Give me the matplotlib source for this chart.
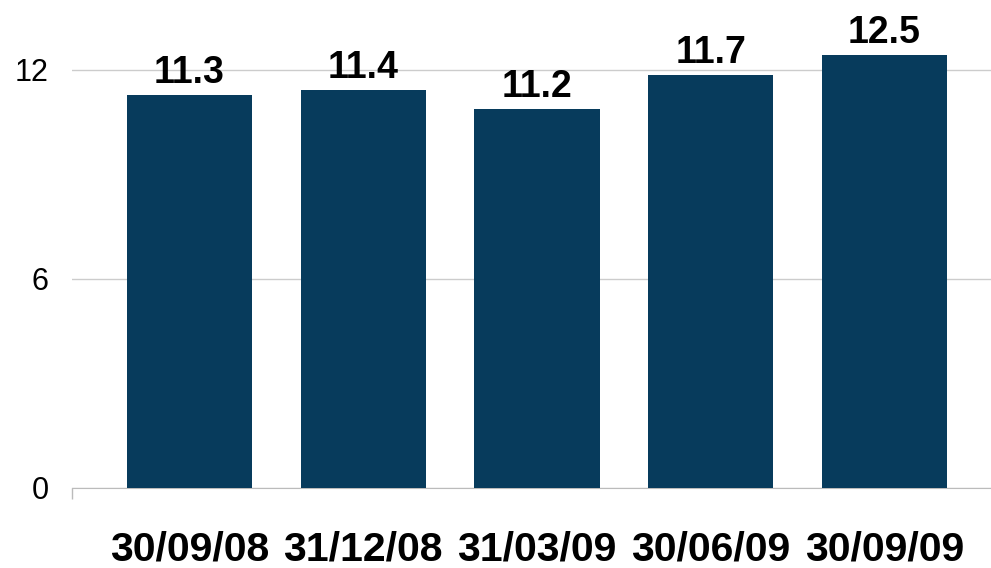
import numpy as np
import matplotlib.pyplot as plt

plt.rcParams['font.family'] = ['Liberation Sans', 'DejaVu Sans']

dates = ['30/09/08', '31/12/08', '31/03/09', '30/06/09', '30/09/09']
bar_heights = [11.27, 11.41, 10.87, 11.84, 12.41]
value_labels = ['11.3', '11.4', '11.2', '11.7', '12.5']
y_ticks = [0, 6, 12]

fig = plt.figure(figsize=(9.91, 5.68), dpi=100)
ax = fig.add_axes([0.0727, 0.1417, 0.9273, 0.8583])

x = np.arange(len(dates))
bars = ax.bar(x, bar_heights, width=0.72, color='#073B5C', zorder=3)

for b, lab in zip(bars, value_labels):
    ax.annotate(lab, (b.get_x() + b.get_width() / 2, b.get_height()),
                xytext=(0, 3), textcoords='offset points',
                ha='center', va='bottom', fontsize=27, fontweight='bold')

ax.set_xlim(-0.676, 4.613)
ax.set_ylim(0, 14)
ax.set_yticks(y_ticks)
ax.set_yticklabels([str(t) for t in y_ticks])
ax.set_xticks(x)
ax.set_xticklabels(dates, fontsize=29.5, fontweight='bold')

ax.grid(axis='y', color='#cccccc', linewidth=1, zorder=0)
ax.tick_params(axis='y', length=0, labelsize=22, pad=17)
ax.tick_params(axis='x', length=0, pad=31)
ax.set_xticks([-0.676], minor=True)
ax.tick_params(axis='x', which='minor', length=8, color='#bbbbbb', width=1)

for side in ['top', 'right', 'left']:
    ax.spines[side].set_visible(False)
ax.spines['bottom'].set_color('#bbbbbb')

fig.savefig('out.png', dpi=100)
